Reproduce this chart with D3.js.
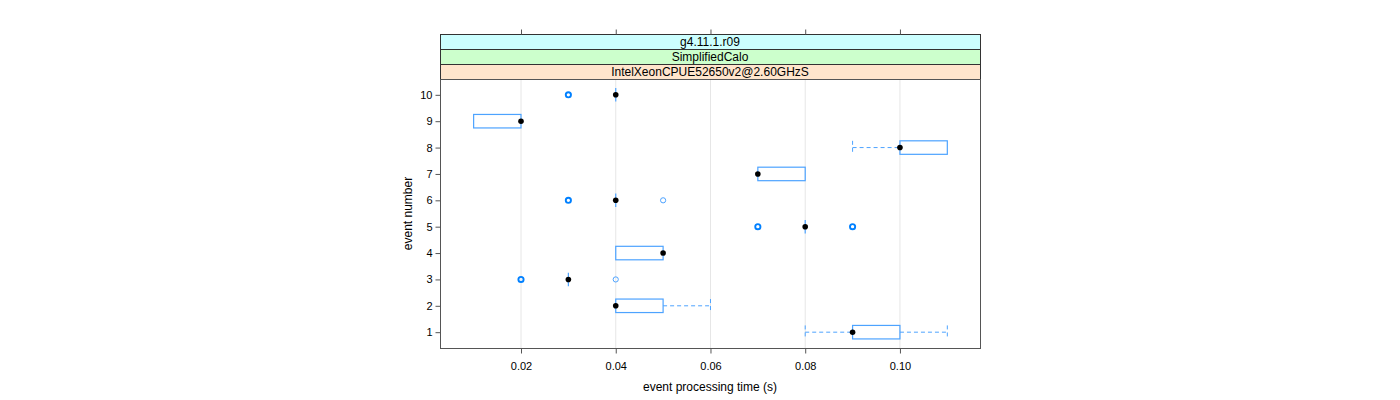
<!DOCTYPE html>
<html><head><meta charset="utf-8">
<script src="https://cdn.jsdelivr.net/npm/d3@7"></script>
<style>body{margin:0;background:#fff}svg{display:block}text{font-family:"Liberation Sans",Arial,sans-serif}</style>
</head><body><svg id="c" width="1400" height="400"></svg>
<script>
const events = [1,2,3,4,5,6,7,8,9,10];
const lowWhisker = [0.08,0.04,0.03,0.04,0.08,0.04,0.07,0.09,0.01,0.04];
const q1 =        [0.09,0.04,0.03,0.04,0.08,0.04,0.07,0.10,0.01,0.04];
const medians =   [0.09,0.04,0.03,0.05,0.08,0.04,0.07,0.10,0.02,0.04];
const q3 =        [0.10,0.05,0.03,0.05,0.08,0.04,0.08,0.11,0.02,0.04];
const highWhisker=[0.11,0.06,0.03,0.05,0.08,0.04,0.08,0.11,0.02,0.04];
const outlierEvent = [3,3,5,5,6,6,10];
const outlierValue = [0.02,0.04,0.07,0.09,0.03,0.05,0.03];
const outlierCount = [3,1,3,3,3,1,3];
const xTicks = [0.02,0.04,0.06,0.08,0.10];
const xTickLabels = ["0.02","0.04","0.06","0.08","0.10"];
const strips = ["g4.11.1.r09","SimplifiedCalo","IntelXeonCPUE52650v2@2.60GHzS"];
const stripColors = ["#ccffff","#ccffcc","#ffe5cc"];

const svg = d3.select("#c");
const L=440,R=980,T=79,B=348;
const x = d3.scaleLinear().domain([0.0029,0.1169]).range([L,R]);
const y = d3.scaleLinear().domain([0.4,10.6]).range([B,T]);
const blue="#4da3ff", dark="#0080ff";
const bh = 13.5;

// grid
svg.append("g").selectAll("line").data(xTicks).join("line")
  .attr("x1",d=>x(d)).attr("x2",d=>x(d)).attr("y1",T).attr("y2",B)
  .attr("stroke","#e6e6e6").attr("stroke-width",1);

// strips
const sh=15;
strips.forEach((s,i)=>{
  const yy = T - (strips.length - i)*sh;
  svg.append("rect").attr("x",L+0.5).attr("y",yy+0.5).attr("width",R-L).attr("height",sh)
    .attr("fill",stripColors[i]).attr("stroke","#333");
  svg.append("text").attr("x",(L+R)/2).attr("y",yy+sh/2+4.5).attr("text-anchor","middle")
    .attr("font-size",12).attr("fill","#000").text(s);
});

// panel border
svg.append("rect").attr("x",L+0.5).attr("y",T+0.5).attr("width",R-L).attr("height",B-T)
  .attr("fill","none").attr("stroke","#555");

// axes
const xb = d3.axisBottom(x).tickValues(xTicks).tickFormat((d,i)=>xTickLabels[i]).tickSize(5).tickPadding(9);
const gb = svg.append("g").attr("transform",`translate(0,${B+0.5})`).call(xb);
const xt = d3.axisTop(x).tickValues(xTicks).tickFormat("").tickSize(5);
const gt = svg.append("g").attr("transform",`translate(0,${T-3*sh+0.5})`).call(xt);
const yl = d3.axisLeft(y).tickValues(events).tickSize(5).tickPadding(3);
const gl = svg.append("g").attr("transform",`translate(${L+0.5},0)`).call(yl);
[gb,gt,gl].forEach(g=>{g.select(".domain").remove();g.selectAll("line").attr("stroke","#555");
  g.selectAll("text").attr("font-size",11).attr("fill","#000").attr("font-family","Liberation Sans, Arial, sans-serif");});

svg.append("text").attr("x",(L+R)/2).attr("y",391).attr("text-anchor","middle").attr("font-size",12).text("event processing time (s)");
svg.append("text").attr("transform",`translate(412,${(T+B)/2}) rotate(-90)`).attr("text-anchor","middle").attr("font-size",12).text("event number");

// boxes
const g = svg.append("g");
events.forEach((e,i)=>{
  const cy = y(e);
  // whiskers
  if (lowWhisker[i]<q1[i]) {
    g.append("line").attr("x1",x(lowWhisker[i])).attr("x2",x(q1[i])).attr("y1",cy).attr("y2",cy)
      .attr("stroke",blue).attr("stroke-dasharray","4,3");
    g.append("line").attr("x1",x(lowWhisker[i])).attr("x2",x(lowWhisker[i])).attr("y1",cy-bh/2).attr("y2",cy+bh/2)
      .attr("stroke",blue).attr("stroke-dasharray","4,3");
  }
  if (highWhisker[i]>q3[i]) {
    g.append("line").attr("x1",x(q3[i])).attr("x2",x(highWhisker[i])).attr("y1",cy).attr("y2",cy)
      .attr("stroke",blue).attr("stroke-dasharray","4,3");
    g.append("line").attr("x1",x(highWhisker[i])).attr("x2",x(highWhisker[i])).attr("y1",cy-bh/2).attr("y2",cy+bh/2)
      .attr("stroke",blue).attr("stroke-dasharray","4,3");
  }
  if (q3[i]>q1[i]) {
    g.append("rect").attr("x",x(q1[i])).attr("y",cy-bh/2).attr("width",x(q3[i])-x(q1[i])).attr("height",bh)
      .attr("fill","none").attr("stroke",blue).attr("stroke-width",1.2);
  } else {
    g.append("line").attr("x1",x(q1[i])).attr("x2",x(q1[i])).attr("y1",cy-bh/2).attr("y2",cy+bh/2)
      .attr("stroke",blue).attr("stroke-width",1.2);
  }
  g.append("circle").attr("cx",x(medians[i])).attr("cy",cy).attr("r",2.8).attr("fill","#000");
});
// outliers
outlierEvent.forEach((e,i)=>{
  g.append("circle").attr("cx",x(outlierValue[i])).attr("cy",y(e)).attr("r",2.6)
    .attr("fill","none").attr("stroke",outlierCount[i]>1?dark:blue).attr("stroke-width",outlierCount[i]>1?1.9:1);
});
</script></body></html>
